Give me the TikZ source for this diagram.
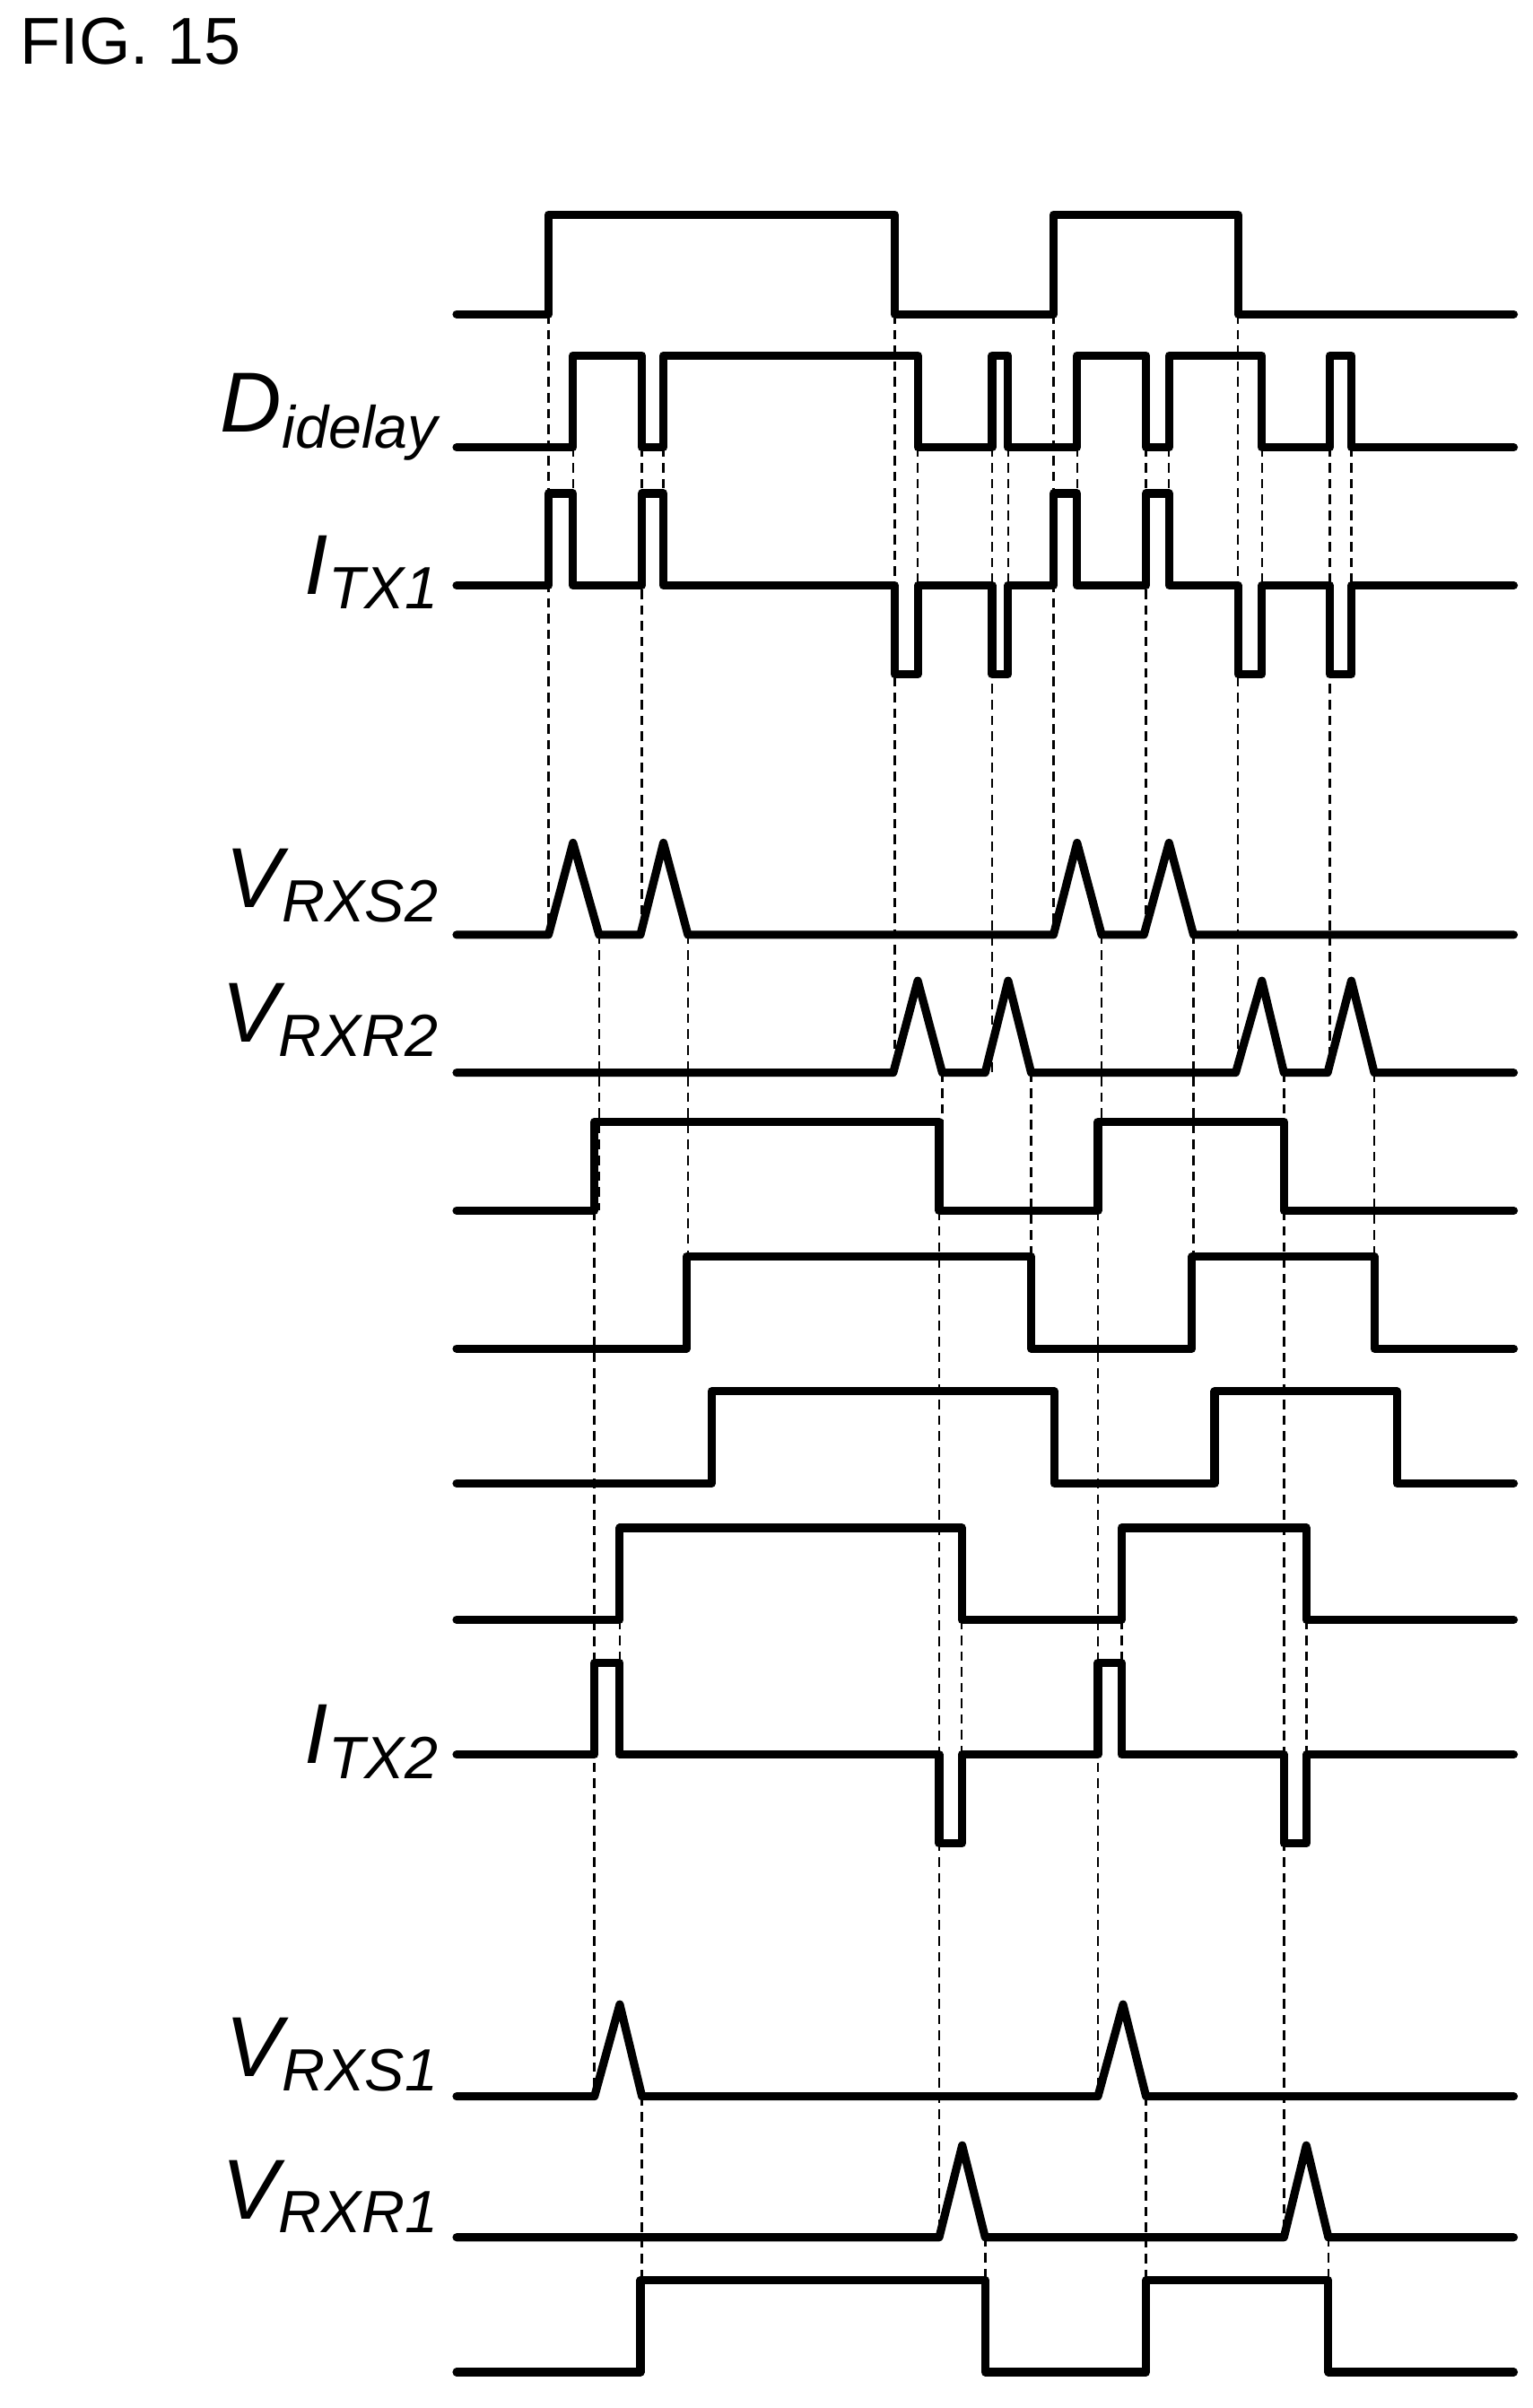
\documentclass[tikz,border=0pt]{standalone}
\usepackage{fontspec}
\setmainfont{Liberation Sans}
\begin{document}
\begin{tikzpicture}[x=0.01708cm, y=-0.01708cm,
    wave/.style={line width=2.6pt, line join=round, line cap=round},
    guide/.style={line width=0.7pt, dash pattern=on 3pt off 2pt},
    sig/.style={anchor=base east, font=\fontsize{27}{30}\selectfont\itshape}]
    \useasboundingbox (0,0) rectangle (1000,1571.4);

    % Title
    \node[anchor=base west, font=\fontsize{21}{24}\selectfont] (fig) at (6,42) {FIG. 15};

    % Labels
    \node[sig] (did) at (294,282) {D\textsubscript{idelay}};
    \node[sig] (itx1) at (294,388) {I\textsubscript{TX1}};
    \node[sig] (vrxs2) at (294,592) {V\textsubscript{RXS2}};
    \node[sig] (vrxr2) at (294,680) {V\textsubscript{RXR2}};
    \node[sig] (itx2) at (294,1151) {I\textsubscript{TX2}};
    \node[sig] (vrxs1) at (294,1355) {V\textsubscript{RXS1}};
    \node[sig] (vrxr1) at (294,1448) {V\textsubscript{RXR1}};

    % Guide lines
    \foreach \x/\ya/\yb in {358/205/610, 374/292/322, 419/292/610, 433/292/322,
        584/205/700, 599/292/383, 647.5/292/700, 658/292/383,
        687.6/205/610, 703/292/322, 748/292/610, 763/292/322,
        808/205/700, 823.6/292/383, 868/292/700, 882/292/383,
        391/610/790, 449/610/880, 719/610/790, 779/610/880,
        615/700/790, 673/700/880, 838/700/790, 897/700/880,
        388/790/1368, 613/790/1460, 716.6/790/1368, 838/790/1460,
        404.5/1057/1085, 627.7/1057/1145, 732/1057/1085, 852.6/1057/1145,
        419/1368/1548, 748/1368/1548, 643/1460/1548, 867/1460/1548}
        \draw[guide] (\x,\ya) -- (\x,\yb);

    % Top clock
    \draw[wave] (298,205) -- (358,205) |- (584,140) |- (687.6,205) |- (808,140) |- (988,205);
    % D idelay
    \draw[wave] (298,292) -- (374,292) |- (419,232) |- (433,292) |- (599,232) |- (647.5,292)
        |- (658,232) |- (703,292) |- (748,232) |- (763,292) |- (823.6,232) |- (868,292)
        |- (882,232) |- (988,292);
    % I TX1
    \draw[wave] (298,382) -- (358,382) |- (374,322) |- (419,382) |- (433,322) |- (584,382)
        |- (599,440) |- (647.5,382) |- (658,440) |- (687.6,382) |- (703,322) |- (748,382)
        |- (763,322) |- (808,382) |- (823.6,440) |- (868,382) |- (882,440) |- (988,382);
    % V RXS2
    \draw[wave] (298,610) -- (358,610) -- (374,550) -- (391,610) -- (418,610) -- (433,550)
        -- (449,610) -- (687.6,610) -- (703,550) -- (719,610) -- (746.6,610) -- (763,550)
        -- (779,610) -- (988,610);
    % V RXR2
    \draw[wave] (298,700) -- (583,700) -- (599,640) -- (615,700) -- (643,700) -- (658,640)
        -- (673,700) -- (806.5,700) -- (823.6,640) -- (838,700) -- (866.5,700) -- (882,640)
        -- (897,700) -- (988,700);
    % Delayed clocks
    \draw[wave] (298,790) -- (388,790) |- (613,732) |- (716.6,790) |- (838,732) |- (988,790);
    \draw[wave] (298,880) -- (448,880) |- (673,820) |- (778,880) |- (897,820) |- (988,880);
    \draw[wave] (298,968) -- (464.5,968) |- (688,908) |- (792.7,968) |- (911.7,908) |- (988,968);
    \draw[wave] (298,1057) -- (404.5,1057) |- (627.7,997) |- (732,1057) |- (852.6,997) |- (988,1057);
    % I TX2
    \draw[wave] (298,1145) -- (388,1145) |- (404.5,1085) |- (613,1145) |- (627.7,1203)
        |- (716.6,1145) |- (732,1085) |- (838,1145) |- (852.6,1203) |- (988,1145);
    % V RXS1
    \draw[wave] (298,1368) -- (388,1368) -- (404.5,1308) -- (419,1368) -- (716.6,1368)
        -- (733,1308) -- (748,1368) -- (988,1368);
    % V RXR1
    \draw[wave] (298,1460) -- (613,1460) -- (628,1400) -- (643,1460) -- (838,1460)
        -- (852.6,1400) -- (867,1460) -- (988,1460);
    % Output
    \draw[wave] (298,1548) -- (418,1548) |- (643,1488) |- (748,1548) |- (867,1488) |- (988,1548);
\end{tikzpicture}
\end{document}
